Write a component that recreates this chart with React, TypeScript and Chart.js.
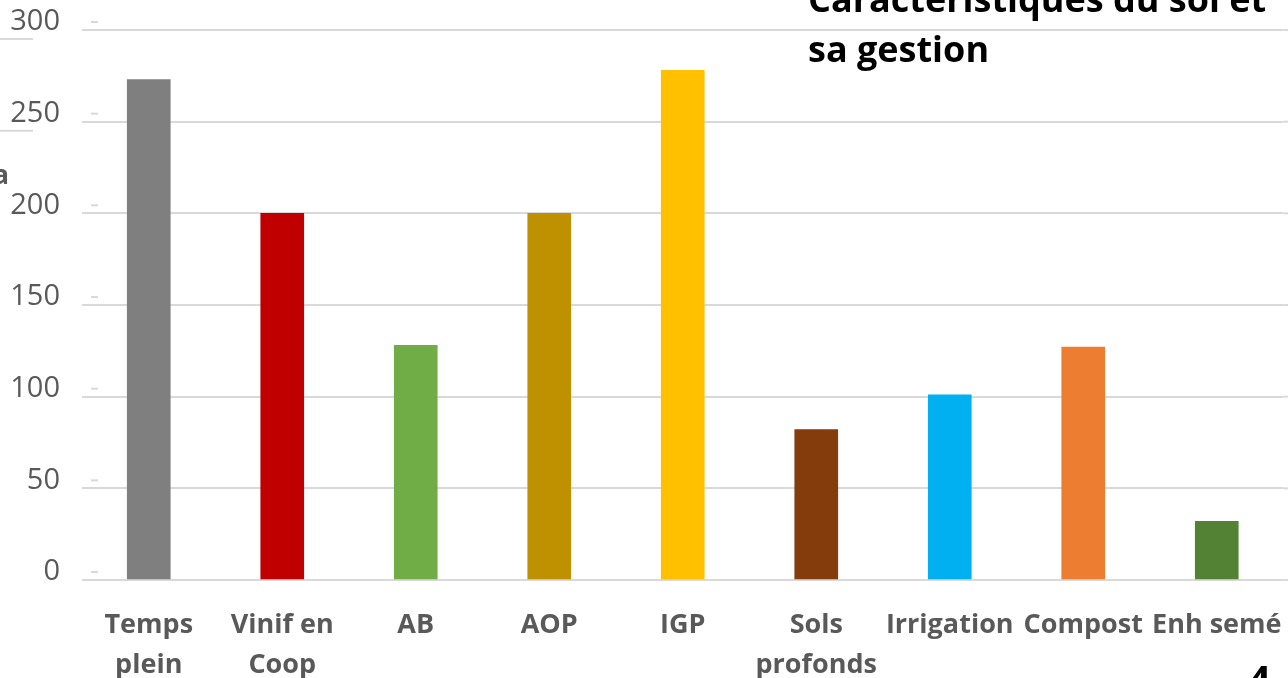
import React, { useEffect, useRef } from "react";
import { Chart, registerables } from "chart.js";

Chart.register(...registerables);

const categories: (string | string[])[] = [
  ["Temps", "plein"],
  ["Vinif en", "Coop"],
  "AB",
  "AOP",
  "IGP",
  ["Sols", "profonds"],
  "Irrigation",
  "Compost",
  "Enh semé",
];
const values: number[] = [273, 200, 128, 200, 278, 82, 101, 127, 32];
const barColors: string[] = [
  "#7f7f7f",
  "#c00000",
  "#70ad47",
  "#bf9000",
  "#ffc000",
  "#843c0c",
  "#00b0f0",
  "#ed7d31",
  "#548235",
];
const yTicks: number[] = [0, 50, 100, 150, 200, 250, 300];
const titleLines: string[] = ["Caractéristiques du sol et", "sa gestion"];

const GRID = "#d9d9d9";
const TEXT = "#595959";

const decorPlugin = {
  id: "decor",
  afterDraw(chart: any) {
    const ctx = chart.ctx as CanvasRenderingContext2D;
    const y = chart.scales.y;
    ctx.save();
    ctx.strokeStyle = GRID;
    ctx.lineWidth = 2;
    yTicks.forEach((v) => {
      const py = y.getPixelForValue(v);
      ctx.beginPath();
      ctx.moveTo(91, py - 8);
      ctx.lineTo(98, py - 8);
      ctx.stroke();
      if (v >= 250) {
        ctx.beginPath();
        ctx.moveTo(0, py + 9);
        ctx.lineTo(33, py + 9);
        ctx.stroke();
      }
    });
    // extend gridlines to the right edge
    yTicks.forEach((v) => {
      const py = y.getPixelForValue(v);
      ctx.beginPath();
      ctx.moveTo(chart.chartArea.right, py);
      ctx.lineTo(chart.width, py);
      ctx.stroke();
    });
    ctx.fillStyle = "#000000";
    ctx.font = 'bold 36px "Open Sans"';
    ctx.textAlign = "left";
    ctx.textBaseline = "alphabetic";
    ctx.fillText(titleLines[0], 808, 12);
    ctx.fillText(titleLines[1], 808, 62);
    ctx.fillStyle = TEXT;
    ctx.font = 'bold 27px "Open Sans"';
    ctx.textAlign = "right";
    ctx.fillText("ha", 9, 184);
    ctx.fillStyle = "#000000";
    ctx.font = 'bold 40px "Open Sans"';
    ctx.textAlign = "left";
    ctx.fillText("4", 1248, 694);
    ctx.restore();
  },
};

export default function App() {
  const ref = useRef<HTMLCanvasElement | null>(null);
  useEffect(() => {
    document.body.style.margin = "0";
    if (!ref.current) return;
    const chart = new Chart(ref.current, {
      type: "bar",
      data: {
        labels: categories,
        datasets: [
          {
            data: values,
            backgroundColor: barColors,
            barThickness: 43,
            borderWidth: 0,
          },
        ],
      },
      options: {
        animation: false,
        responsive: false,
        maintainAspectRatio: false,
        layout: { padding: { top: 30, right: 4.5, left: 0, bottom: 0 } },
        plugins: {
          legend: { display: false },
          tooltip: { enabled: false },
          title: { display: false },
        },
        scales: {
          x: {
            grid: { display: false, drawTicks: false },
            border: { display: false },
            ticks: {
              color: TEXT,
              font: { family: "Open Sans", size: 27, weight: "bold", lineHeight: 1.48 },
              padding: 25,
              maxRotation: 0,
              autoSkip: false,
            },
            afterFit: (s: any) => {
              s.height = 98;
              s.paddingLeft = 0;
              s.paddingRight = 0;
            },
          },
          y: {
            min: 0,
            max: 300,
            grid: { color: GRID, lineWidth: 2, drawTicks: false },
            border: { display: false },
            ticks: {
              stepSize: 50,
              color: TEXT,
              font: { family: "Open Sans", size: 29 },
              padding: 22,
              labelOffset: -8,
            },
            afterFit: (s: any) => {
              s.width = 82;
              s.paddingTop = 0;
              s.paddingBottom = 0;
            },
          },
        },
      },
      plugins: [decorPlugin],
    });
    return () => chart.destroy();
  }, []);
  return (
    <canvas
      ref={ref}
      width={1288}
      height={678}
      style={{ position: "fixed", left: 0, top: 0, width: 1288, height: 678 }}
    />
  );
}
